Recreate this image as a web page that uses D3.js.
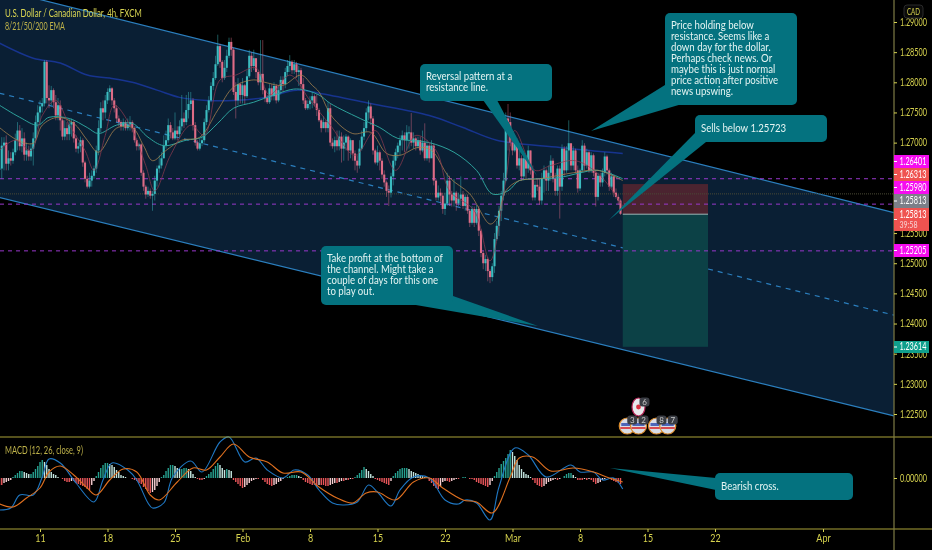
<!DOCTYPE html>
<html>
<head>
<meta charset="utf-8">
<script src="https://cdn.jsdelivr.net/npm/d3@7"></script>
<style>
  html, body { margin: 0; background: #000; }
  svg { display: block; filter: blur(0.35px); }
  text { font-family: Lato, "Liberation Sans", sans-serif; }
</style>
</head>
<body>
<svg id="chart" width="932" height="550"></svg>
<script>
// OHLC of the 4h bars, in pips above 1.2000 (open = previous close)
const closes = [657,695,700,665,674,670,684,704,720,694,707,680,687,677,690,707,734,750,760,765,834,774,770,787,767,745,762,737,710,724,714,730,734,707,690,694,704,667,640,627,637,645,657,687,724,757,750,770,784,790,770,757,740,734,727,734,724,730,734,724,704,694,697,650,627,614,620,612,615,637,657,662,674,695,704,729,717,707,720,714,727,740,734,754,764,770,729,700,690,699,704,734,754,770,794,807,830,860,834,807,824,844,867,854,784,770,797,779,795,777,810,844,827,840,817,800,814,787,774,767,790,777,794,770,787,804,797,817,827,834,820,830,817,820,797,770,757,764,770,777,765,754,737,724,734,724,757,700,694,704,694,710,690,700,710,687,704,682,670,662,690,710,724,750,760,740,687,667,684,670,647,634,620,617,644,670,684,695,704,712,704,717,717,700,707,694,704,687,700,674,695,674,695,637,609,617,612,590,599,637,614,604,617,599,607,614,595,610,587,567,590,567,590,554,517,500,507,487,477,495,540,562,587,612,637,740,734,700,687,704,662,674,644,674,657,687,654,609,630,627,604,640,654,637,650,670,640,620,657,627,690,654,687,699,662,687,654,624,654,695,662,684,654,679,650,610,645,634,650,677,654,627,644,617,610,604,582];
const highs = [670,709,709,712,687,684,690,715,734,729,724,717,700,695,699,717,745,762,770,774,837,837,795,794,790,779,774,770,740,737,734,740,740,737,712,700,710,707,670,645,650,654,662,695,737,767,770,779,790,795,792,774,762,745,737,740,737,740,744,737,727,707,700,699,654,630,627,624,620,645,662,679,684,712,720,740,734,724,750,727,737,779,750,779,784,784,774,734,704,707,712,740,762,777,800,817,844,879,864,837,837,854,874,874,857,800,807,800,807,797,820,854,850,854,837,820,870,870,790,779,797,797,800,797,795,810,810,824,837,845,837,837,834,827,824,807,774,770,777,784,780,780,757,740,744,737,767,765,707,710,720,720,717,712,714,712,707,704,687,679,704,720,734,757,770,765,744,690,695,687,674,654,637,629,650,679,690,700,712,720,717,729,727,749,717,710,710,710,720,732,704,700,704,699,640,629,624,617,617,650,645,620,640,620,617,644,620,614,614,590,595,594,597,595,557,520,514,510,490,500,550,570,595,620,650,750,764,750,704,712,707,687,679,679,679,695,687,662,637,640,640,650,662,657,662,679,674,650,662,662,697,694,694,737,695,694,690,662,657,704,699,690,687,684,682,654,650,650,657,684,680,657,650,647,624,614,607];
const lows = [640,640,654,654,654,662,665,679,687,687,684,670,670,670,670,662,699,725,729,750,760,765,757,762,757,737,737,720,704,704,704,704,710,700,684,682,684,660,634,624,624,627,640,650,679,717,737,740,764,770,762,750,734,727,720,720,720,720,720,717,700,687,687,645,620,607,610,607,587,604,627,650,657,674,690,700,707,704,704,704,707,720,724,729,740,754,720,695,687,687,694,700,729,750,767,787,804,827,824,800,804,817,840,844,779,740,762,765,765,764,774,807,817,820,807,795,787,780,767,764,764,770,770,765,767,780,784,790,810,817,814,814,807,794,787,764,754,754,755,757,760,744,734,717,724,717,717,694,690,684,687,687,667,670,687,670,674,670,654,650,657,687,704,717,737,729,680,664,662,654,640,627,610,595,609,629,662,674,679,687,684,687,690,694,690,687,690,680,684,670,670,667,677,629,604,604,600,582,580,595,595,594,594,587,595,595,590,587,582,560,564,560,564,545,510,490,487,470,467,470,484,537,545,570,604,634,687,694,679,684,657,654,637,637,640,650,647,604,604,620,597,597,617,620,620,637,634,612,612,574,620,645,650,654,654,654,650,617,620,650,654,657,650,650,644,594,604,627,627,644,647,620,624,610,607,597,580];

// moving averages: bar number and pips above 1.2000
const ema200Bars = [0,15,27,39,49,59,70,80,92,104,118,132,142,165,191,206,221,249,277];
const ema200 = [865,840,832,812,807,800,787,775,770,770,775,787,782,765,745,725,704,692,682];
const ema50Bars = [0,9,17,22,31,39,44,52,59,66,73,83,90,97,104,113,122,132,142,147,162,169,177,191,202,212,219,226,231,239,249,257,266,277];
const ema50 = [762,742,729,742,740,725,715,729,732,709,695,704,709,732,757,767,779,789,779,765,737,725,707,700,684,654,615,620,637,640,642,649,654,640];
const ema21Bars = [0,8,15,19,26,33,39,44,52,59,64,68,74,81,89,97,104,113,119,126,134,139,142,148,157,165,172,178,186,192,200,209,218,221,225,231,240,255,266,277];
const ema21 = [725,704,699,729,742,732,704,684,724,725,695,670,687,704,709,754,792,804,799,795,812,795,784,742,715,717,682,679,692,687,642,615,565,574,620,637,640,650,654,637];
const ema8Bars = [0,7,14,19,25,31,38,42,47,51,58,65,69,76,85,91,98,105,114,120,129,138,147,158,167,176,185,194,200,211,218,225,229,238,245,256,267,277];
const ema8 = [687,704,687,745,770,729,687,654,712,762,729,662,620,679,729,712,804,812,824,779,812,770,729,679,720,654,712,687,620,587,504,637,720,654,662,670,645,595];

// MACD panel, in units of 0.00005
const macdHist = [-7,-7,-5,-4,-3,-2,1,3,5,7,7,6,5,4,4,6,9,12,16,18,16,13,9,6,4,3,1,0,-1,-3,-4,-4,-3,-3,-5,-6,-7,-8,-9,-11,-12,-7,-3,2,6,10,13,15,15,14,13,11,8,6,3,2,1,0,0,-1,-2,-3,-5,-6,-9,-11,-13,-15,-14,-12,-8,-4,1,3,7,10,13,13,12,10,9,9,10,10,9,7,4,1,-1,-2,-2,-1,2,4,6,9,12,15,13,10,8,9,8,7,-2,-4,-6,-8,-10,-9,-7,-5,-3,-2,-1,-1,0,-2,-4,-6,-7,-8,-7,-6,-4,-3,-1,0,1,2,3,3,3,2,1,-2,-4,-5,-6,-7,-7,-8,-7,-7,-7,-8,-8,-7,-6,-5,-5,-4,-3,-3,-2,-2,-1,-1,1,3,5,8,11,9,7,4,2,-1,-2,-3,-4,-5,-6,-7,-3,2,5,7,9,10,10,10,9,7,6,5,4,3,2,1,1,-3,-5,-8,-10,-11,-8,-4,-3,-3,-4,-3,-2,-1,-1,0,1,1,0,-1,-1,-2,-4,-5,-6,-7,-8,-9,-7,-3,2,6,10,14,17,20,24,28,26,22,18,13,9,6,4,3,1,-2,-5,-7,-8,-9,-8,-6,-4,-3,-2,-1,-2,-1,0,2,4,5,5,3,1,-2,-2,-2,-1,-2,-1,-2,-4,-6,-5,-4,-2,-1,0,0,-2,-3,-4,-5,-6];
const macdBars = [0,5,9,15,19,22,27,34,42,46,50,57,61,66,68,73,77,85,90,98,102,109,114,119,126,131,137,142,148,153,159,164,168,174,178,184,191,198,204,207,212,218,222,229,235,243,254,258,264,268,273,277];
const macdLine = [-32,-30,-17,-17,1,19,15,-5,-24,-2,15,8,-2,-25,-30,-25,1,17,6,36,41,16,20,8,0,8,3,-12,-25,-27,-24,-7,-14,-28,-12,1,0,-22,-26,-22,-25,-42,-9,30,23,1,13,6,6,-2,0,-11];
const signalBars = [0,6,12,18,22,27,33,39,43,49,55,61,67,71,79,86,92,98,104,111,119,126,134,142,150,157,163,168,176,184,191,197,206,212,219,227,231,237,245,255,264,271,277];
const signalLine = [-26,-29,-20,-10,6,12,3,-10,-17,-2,9,6,-17,-22,-4,10,8,21,34,21,16,5,6,-9,-20,-25,-15,-14,-22,-4,0,-10,-22,-24,-35,1,20,21,7,10,6,0,-4];

// time axis
const timeTickBars = [18,48,78,108,138,168,198,228,258,288,318,366];
const timeTickLabels = ["11","18","25","Feb","8","15","22","Mar","8","15","22","Apr"];

// price axis, 1.265 and 1.260 sit behind the price labels in the reference
const priceTicks = [1.29,1.285,1.28,1.275,1.27,1.255,1.25,1.245,1.24,1.235,1.23,1.225];

// levels drawn on the chart
const levelPrices = [1.26401,1.25980,1.25205];
const lastPrice = 1.25813;
const stopPrice = 1.26313;
const targetPrice = 1.23614;
const dimPrice = 1.2615;

// channel, bar number and price at both ends
const channelBars = [0,397.5];
const channelTop = [1.2954,1.2584];
const channelMid = [1.2782,1.2414];
const channelBottom = [1.2609,1.2247];

// economic events under the chart
const usEvents = [{bar:279,n:"3"},{bar:284,n:"2"},{bar:292,n:"8"},{bar:297,n:"7"}];
const caEvents = [{bar:284,n:"6"}];

const svg = d3.select("#chart");
const W = 932, H = 550, axisX = 894;
const yellow = "#d6d24e";
const toPrice = p => 1.2 + p / 10000;

// the reference text is narrower than any installed font, so squeeze it sideways
function squeeze(sel, factor) {
  sel.each(function() {
    const t = d3.select(this);
    t.attr("x", (+t.attr("x") || 0) / factor).attr("transform", `scale(${factor},1)`);
  });
}
function fitWidth(sel, width) {
  sel.each(function() {
    squeeze(d3.select(this), width / this.getComputedTextLength());
  });
}

const x = d3.scaleLinear().domain([0, 398]).range([-0.5, 895]);
const y = d3.scaleLinear().domain([1.29, 1.225]).range([22, 414]);
const macdUnit = 0.00005;
const yMacd = d3.scaleLinear().domain([-51 * macdUnit, 41 * macdUnit]).range([529, 437]);

svg.append("rect").attr("width", W).attr("height", H).attr("fill", "#000");

// channel fill and lines
const channelArea = d3.area().x((d, i) => x(channelBars[i])).y0((d, i) => y(channelBottom[i])).y1(d => y(d));
svg.append("path").attr("d", channelArea(channelTop)).attr("fill", "#0a1f34");
const channelPath = d3.line().x((d, i) => x(channelBars[i])).y(d => y(d));
[channelTop, channelBottom].forEach(c => {
  svg.append("path").attr("d", channelPath(c)).attr("fill", "none").attr("stroke", "#2b7fbe").attr("stroke-width", 1.2);
});
svg.append("path").attr("d", channelPath(channelMid)).attr("fill", "none")
  .attr("stroke", "#2b7fbe").attr("stroke-width", 1.2).attr("stroke-dasharray", "5 5");

// long/short position boxes
const boxLeft = x(277), boxRight = 708;
svg.append("rect").attr("x", boxLeft).attr("width", boxRight - boxLeft)
  .attr("y", y(stopPrice)).attr("height", y(lastPrice) - y(stopPrice)).attr("fill", "#4b2430");
svg.append("rect").attr("x", boxLeft).attr("width", boxRight - boxLeft)
  .attr("y", y(lastPrice)).attr("height", y(targetPrice) - y(lastPrice)).attr("fill", "#0c4146");
svg.append("line").attr("x1", boxLeft).attr("x2", boxRight).attr("y1", y(lastPrice)).attr("y2", y(lastPrice))
  .attr("stroke", "#9fb5b5").attr("stroke-width", 1);

// horizontal levels
svg.append("line").attr("x1", 0).attr("x2", axisX).attr("y1", y(dimPrice)).attr("y2", y(dimPrice))
  .attr("stroke", "#4a4a36").attr("stroke-width", 1).attr("stroke-dasharray", "1 1");
levelPrices.forEach(p => {
  svg.append("line").attr("x1", 0).attr("x2", axisX).attr("y1", y(p)).attr("y2", y(p))
    .attr("stroke", "#9a38cc").attr("stroke-width", 1).attr("stroke-dasharray", "4 4");
});

// moving averages under the candles
function emaLine(bars, vals, color, width, opacity) {
  const line = d3.line().curve(d3.curveCatmullRom).x((d, i) => x(bars[i])).y(d => y(toPrice(d)));
  svg.append("path").attr("d", line(vals)).attr("fill", "none").attr("stroke", color)
    .attr("stroke-width", width).attr("stroke-opacity", opacity);
}
emaLine(ema200Bars, ema200, "#17348f", 1.5, 1);

// candles
const candles = closes.map((c, i) => ({
  i: i,
  open: i === 0 ? c : closes[i - 1],
  close: c,
  high: highs[i],
  low: lows[i]
}));
const upColor = "#3bbcc0", downColor = "#de6c86";
const candle = svg.append("g").selectAll("g").data(candles).enter().append("g")
  .attr("fill", d => d.close >= d.open ? upColor : downColor)
  .attr("stroke", d => d.close >= d.open ? upColor : downColor);
candle.append("line")
  .attr("x1", d => x(d.i)).attr("x2", d => x(d.i))
  .attr("y1", d => y(toPrice(d.high))).attr("y2", d => y(toPrice(d.low)))
  .attr("stroke-width", 0.7).attr("stroke-opacity", 0.65);
candle.append("rect")
  .attr("x", d => x(d.i) - 1.05).attr("width", 2.1)
  .attr("y", d => y(toPrice(Math.max(d.open, d.close))))
  .attr("height", d => Math.max(1, Math.abs(y(toPrice(d.open)) - y(toPrice(d.close)))))
  .attr("stroke", "none");

emaLine(ema50Bars, ema50, "#2ea8a0", 1, 0.95);
emaLine(ema21Bars, ema21, "#a9834f", 0.9, 0.85);
emaLine(ema8Bars, ema8, "#8e3a50", 0.9, 0.8);

// MACD histogram, shade depends on rising or falling
svg.append("g").selectAll("rect").data(macdHist).enter().append("rect")
  .attr("x", (d, i) => x(i) - 0.7).attr("width", 1.4)
  .attr("y", d => yMacd(Math.max(d, 0) * macdUnit))
  .attr("height", d => Math.abs(yMacd(0) - yMacd(d * macdUnit)))
  .attr("fill", (d, i) => {
    const prev = i ? macdHist[i - 1] : d;
    if (d >= 0) return d >= prev ? "#26a08f" : "#c4e6e0";
    return d <= prev ? "#e8565a" : "#f7cfd2";
  });

function macdPath(bars, vals, color) {
  const line = d3.line().curve(d3.curveCatmullRom).x((d, i) => x(bars[i])).y(d => yMacd(d * macdUnit));
  svg.append("path").attr("d", line(vals)).attr("fill", "none").attr("stroke", color).attr("stroke-width", 1.1);
}
macdPath(macdBars, macdLine, "#1f78c4");
macdPath(signalBars, signalLine, "#e0701f");

// callouts
const bubbleFill = "#04727f";
const callouts = [
  { box: [420, 64, 132, 37], tail: [[483, 100], [497, 100], [537, 176]], lines: ["Reversal pattern at a", "resistance line."] },
  { box: [665, 13, 132, 92], tail: [[665, 85], [682, 104], [591, 131]], lines: ["Price holding below", "resistance. Seems like a", "down day for the dollar.", "Perhaps check news. Or", "maybe this is just normal", "price action after positive", "news upswing."] },
  { box: [695, 115, 132, 27], tail: [[695, 133], [706, 142], [609, 220]], lines: ["Sells below 1.25723"] },
  { box: [321, 246, 132, 59], tail: [[410, 304], [453, 296], [538, 326]], lines: ["Take profit at the bottom of", "the channel. Might take a", "couple of days for this one", "to play out."] },
  { box: [715, 473, 138, 27], tail: [[716, 478], [716, 490], [610, 468]], lines: ["Bearish cross."] }
];
// measure once, all callouts share the same squeeze
const probe = svg.append("text").attr("font-size", 11.5).text("Take profit at the bottom of");
const bubbleSqueeze = 116 / probe.node().getComputedTextLength();
probe.remove();
callouts.forEach(c => {
  const [bx, by, bw, bh] = c.box;
  svg.append("path").attr("d", d3.line()(c.tail) + "Z").attr("fill", bubbleFill);
  svg.append("rect").attr("x", bx).attr("y", by).attr("width", bw).attr("height", bh).attr("rx", 5).attr("fill", bubbleFill);
  const lineGap = 11;
  const top = by + (bh - c.lines.length * lineGap) / 2 + 9;
  c.lines.forEach((s, i) => {
    svg.append("text").attr("x", bx + 6).attr("y", top + i * lineGap)
      .attr("fill", "#e4f4f2").attr("font-size", 11.5).text(s).call(squeeze, bubbleSqueeze);
  });
});

// events
const eventY = 426;
usEvents.forEach(e => {
  const g = svg.append("g").attr("transform", `translate(${x(e.bar)},${eventY})`);
  g.append("circle").attr("r", 8).attr("fill", "#d9dde6").attr("stroke", "#d98a2a").attr("stroke-width", 1.2);
  g.append("rect").attr("x", -6).attr("y", -3).attr("width", 12).attr("height", 3).attr("fill", "#4d66b8");
  g.append("rect").attr("x", -7).attr("y", 1).attr("width", 14).attr("height", 2).attr("fill", "#d84a50");
});
caEvents.forEach(e => {
  const g = svg.append("g").attr("transform", `translate(${x(e.bar)},${eventY - 19})`);
  g.append("ellipse").attr("rx", 6.5).attr("ry", 9).attr("fill", "#e8e8ec").attr("stroke", "#b8285a").attr("stroke-width", 1.2);
  g.append("circle").attr("r", 2.4).attr("fill", "#d83040");
});
usEvents.concat(caEvents).forEach(e => {
  const isCa = caEvents.includes(e);
  const g = svg.append("g").attr("transform", `translate(${x(e.bar) + (isCa ? 6 : 5)},${isCa ? eventY - 24 : eventY - 6})`);
  g.append("rect").attr("x", -5).attr("y", -4.5).attr("width", 10).attr("height", 9).attr("rx", 3).attr("fill", "#3a3d44");
  g.append("text").attr("text-anchor", "middle").attr("y", 3).attr("font-size", 8).attr("fill", "#c8c8c8").text(e.n);
});

// frame of the panels
[437, 529].forEach(py => {
  svg.append("line").attr("x1", 0).attr("x2", W).attr("y1", py).attr("y2", py).attr("stroke", "#a9a138").attr("stroke-width", 1.2);
});
svg.append("line").attr("x1", axisX).attr("x2", axisX).attr("y1", 0).attr("y2", H).attr("stroke", "#7f7c46").attr("stroke-width", 1.2);

// axes
function styleAxis(g) {
  g.select(".domain").remove();
  g.selectAll("line").attr("stroke", yellow);
  g.selectAll("text").attr("fill", yellow).attr("font-size", 10.5).attr("font-family", 'Lato, "Liberation Sans", sans-serif');
}
svg.append("g").attr("transform", `translate(${axisX},0)`)
  .call(d3.axisRight(y).tickValues(priceTicks).tickFormat(d3.format(".5f")).tickSize(3).tickPadding(3))
  .call(styleAxis)
  .call(g => fitWidth(g.selectAll("text"), 27));
svg.append("g").attr("transform", `translate(${axisX},0)`)
  .call(d3.axisRight(yMacd).tickValues([0]).tickFormat(d3.format(".5f")).tickSize(3).tickPadding(3))
  .call(styleAxis)
  .call(g => fitWidth(g.selectAll("text"), 27));
svg.append("g").attr("transform", "translate(0,529)")
  .call(d3.axisBottom(x).tickValues(timeTickBars).tickFormat((d, i) => timeTickLabels[i]).tickSize(3).tickPadding(3))
  .call(styleAxis)
  .call(g => squeeze(g.selectAll("text"), 0.85));

// price labels on the axis, these are stacked so they do not overlap
const priceLabels = [
  { text: "1.26401", top: 155, h: 13, color: "#f60cf0" },
  { text: "1.26313", top: 168, h: 13, color: "#ef5350" },
  { text: "1.25980", top: 181, h: 13, color: "#f60cf0" },
  { text: "1.25813", top: 194, h: 14, color: "#7c7f88" },
  { text: "1.25813", top: 208, h: 23, color: "#ef5350", sub: "39:58" },
  { text: "1.25205", top: 244, h: 13, color: "#f60cf0" },
  { text: "1.23614", top: 341, h: 12, color: "#0f9f8c" }
];
priceLabels.forEach(l => {
  svg.append("rect").attr("x", axisX).attr("y", l.top).attr("width", 35).attr("height", l.h).attr("fill", l.color);
  svg.append("text").attr("x", 899.5).attr("y", l.top + (l.sub ? 10 : l.h / 2 + 3.5)).attr("font-size", 10.5).attr("fill", "#fff").text(l.text).call(fitWidth, 27);
  if (l.sub) svg.append("text").attr("x", 899.5).attr("y", l.top + 20).attr("font-size", 10).attr("fill", "#f7d5d5").text(l.sub).call(fitWidth, 18);
  svg.append("line").attr("x1", axisX).attr("x2", axisX + 3).attr("y1", l.top + l.h / 2).attr("y2", l.top + l.h / 2).attr("stroke", "#fff");
});

svg.append("rect").attr("x", 904).attr("y", 5).attr("width", 19).attr("height", 13).attr("rx", 3).attr("fill", "#0a0a0a").attr("stroke", "#2a2a2a");
svg.append("text").attr("x", 907).attr("y", 15).attr("font-size", 10).attr("fill", yellow).text("CAD").call(fitWidth, 13);

// titles
svg.append("text").attr("x", 5).attr("y", 17).attr("font-size", 12).attr("fill", "#d9d552").text("U.S. Dollar / Canadian Dollar, 4h, FXCM").call(fitWidth, 137);
svg.append("text").attr("x", 5).attr("y", 30).attr("font-size", 11).attr("fill", "#bfb34a").text("8/21/50/200 EMA").call(fitWidth, 60);
svg.append("text").attr("x", 5).attr("y", 454).attr("font-size", 11).attr("fill", "#bfb34a").text("MACD (12, 26, close, 9)").call(fitWidth, 78);
</script>
</body>
</html>
